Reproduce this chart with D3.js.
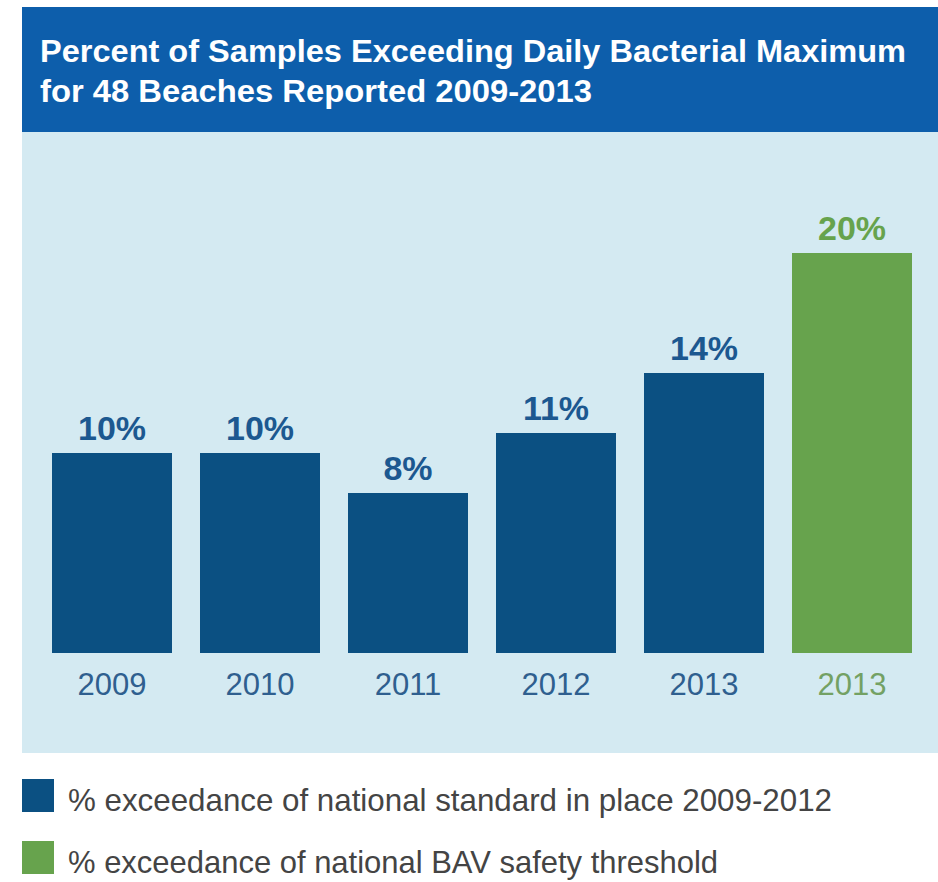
<!DOCTYPE html>
<html>
<head>
<meta charset="utf-8">
<script src="https://cdn.jsdelivr.net/npm/d3@7"></script>
<style>
  body { margin: 0; background: #fff; }
  svg { display: block; font-family: "Liberation Sans", Arial, sans-serif; }
</style>
</head>
<body>
<div id="chart"></div>
<script>
// chart data
const years = ["2009", "2010", "2011", "2012", "2013", "2013"];
const values = [10, 10, 8, 11, 14, 20];
const series = ["standard", "standard", "standard", "standard", "standard", "bav"];
const legendLabels = [
  "% exceedance of national standard in place 2009-2012",
  "% exceedance of national BAV safety threshold"
];
const titleLines = [
  "Percent of Samples Exceeding Daily Bacterial Maximum",
  "for 48 Beaches Reported 2009-2013"
];

const W = 938, H = 882;
const colors = { standard: "#0b5082", bav: "#67a34d" };
const labelColors = { standard: "#1c5890", bav: "#67a34d" };
const yearColors = { standard: "#2f5f8f", bav: "#73a164" };

const svg = d3.select("#chart")
  .append("svg")
  .attr("width", W)
  .attr("height", H);

// header band and light panel
svg.append("rect")
  .attr("x", 22).attr("y", 7)
  .attr("width", W - 22).attr("height", 125)
  .attr("fill", "#0d5eab");

svg.append("rect")
  .attr("x", 22).attr("y", 132)
  .attr("width", W - 22).attr("height", 621)
  .attr("fill", "#d4eaf2");

// title (the original font is narrow, so squeeze to the measured widths)
const titleWidths = [866, 552];
svg.selectAll(".title")
  .data(titleLines)
  .enter().append("text")
  .attr("class", "title")
  .attr("x", 40)
  .attr("y", (d, i) => 62 + i * 40)
  .attr("fill", "#fff")
  .attr("font-weight", "bold")
  .attr("font-size", 32)
  .attr("textLength", (d, i) => titleWidths[i])
  .attr("lengthAdjust", "spacingAndGlyphs")
  .text(d => d);

// scales
const x = d3.scaleBand()
  .domain(d3.range(years.length))
  .range([38, 926])
  .paddingInner(28 / 148)
  .paddingOuter(14 / 148);

const y = d3.scaleLinear()
  .domain([0, 20])
  .range([653, 253]);

// bars
svg.selectAll(".bar")
  .data(values)
  .enter().append("rect")
  .attr("class", "bar")
  .attr("x", (d, i) => x(i))
  .attr("y", d => y(d))
  .attr("width", x.bandwidth())
  .attr("height", d => y(0) - y(d))
  .attr("fill", (d, i) => colors[series[i]]);

// value labels
svg.selectAll(".value")
  .data(values)
  .enter().append("text")
  .attr("class", "value")
  .attr("x", (d, i) => x(i) + x.bandwidth() / 2)
  .attr("y", d => y(d) - 13)
  .attr("text-anchor", "middle")
  .attr("font-weight", "bold")
  .attr("font-size", 34)
  .attr("fill", (d, i) => labelColors[series[i]])
  .text(d => d + "%");

// x axis with year labels
const xAxis = svg.append("g")
  .attr("transform", `translate(0,${y(0)})`)
  .call(d3.axisBottom(x).tickSize(0).tickPadding(20).tickFormat(i => years[i]));

xAxis.select(".domain").remove();
xAxis.selectAll("text")
  .attr("font-family", "Liberation Sans, Arial, sans-serif")
  .attr("font-size", 31)
  .attr("fill", i => yearColors[series[i]]);

// legend
const legend = svg.selectAll(".legend")
  .data(legendLabels)
  .enter().append("g")
  .attr("class", "legend")
  .attr("transform", (d, i) => `translate(22,${779 + i * 62})`);

legend.append("rect")
  .attr("width", 32)
  .attr("height", 33)
  .attr("fill", (d, i) => colors[i === 0 ? "standard" : "bav"]);

const legendWidths = [764, 650];
legend.append("text")
  .attr("x", 46)
  .attr("y", 32)
  .attr("font-size", 32)
  .attr("fill", "#444")
  .attr("textLength", (d, i) => legendWidths[i])
  .attr("lengthAdjust", "spacingAndGlyphs")
  .text(d => d);
</script>
</body>
</html>
